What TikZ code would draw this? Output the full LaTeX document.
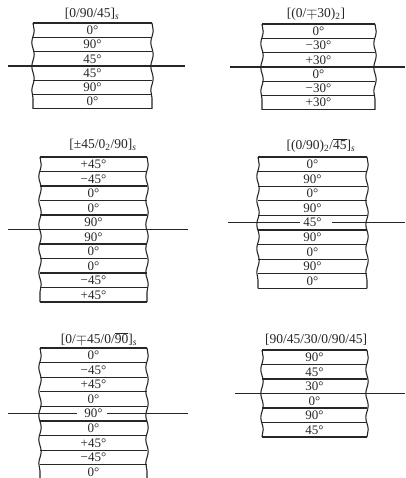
\documentclass[tikz,border=0pt]{standalone}
\usepackage{fontspec}
\setmainfont{Liberation Serif}
\usetikzlibrary{decorations.pathmorphing}
\tikzset{
  layerline/.style={line width=1.1pt, draw=black!85},
  sideline/.style={line width=1.1pt, draw=black!85, decorate,
     decoration={snake, amplitude=1.2pt, segment length=24pt}},
  lab/.style={font=\fontsize{13}{13}\selectfont, inner sep=0pt, text=black!85},
  ttl/.style={font=\fontsize{13.5}{13.5}\selectfont, inner sep=0pt, text=black!85},
  midline/.style={line width=1.1pt, draw=black!85}
}
\newcommand{\ovl}[1]{$\overline{\mbox{#1}}$}
% #1 prefix, #2 left, #3 right, #4 top, #5 layer height, #6 bottom of sides, #7 labels
\newcommand{\laminate}[7]{%
  \draw[layerline] (#2,#4) -- (#3,#4);
  \foreach \t [count=\i] in {#7} {
    \pgfmathsetmacro\yy{#4+(\i-0.5)*#5}
    \pgfmathsetmacro\yb{#4+\i*#5}
    \node[lab] (#1-\i) at ({(#2+#3)/2}, \yy) {\t};
    \draw[layerline] (#2,\yb) -- (#3,\yb);
  }
  \draw[sideline] (#2,#4) -- (#2,#6);
  \draw[sideline] (#3,#4) -- (#3,#6);
}
\begin{document}
\begin{tikzpicture}[x=1pt,y=-1pt]
\useasboundingbox (0,0) rectangle (405,478);
\clip (0,0) rectangle (405,478);

% Panel 1
\node[ttl] (t1) at (92,14) {[0/90/45]\textsubscript{\textit{s}}};
\laminate{a}{33}{152}{23}{14.3}{108.8}{0°,90°,45°,45°,90°,0°}
\coordinate (a-l) at (8,66); \coordinate (a-r) at (185,66);
\draw[midline] (a-l) -- (a-r);

% Panel 2
\node[ttl] (t2) at (316,14) {[(0/$\mp$30)\textsubscript{2}]};
\laminate{b}{262}{375}{24}{14.3}{109.8}{0°,−30°,+30°,0°,−30°,+30°}
\coordinate (b-l) at (230,67); \coordinate (b-r) at (405,67);
\draw[midline] (b-l) -- (b-r);

% Panel 3
\node[ttl] (t3) at (103,145) {[±45/0\textsubscript{2}/90]\textsubscript{\textit{s}}};
\laminate{c}{40}{147}{157}{14.5}{302}{+45°,−45°,0°,0°,90°,90°,0°,0°,−45°,+45°}
\coordinate (c-l) at (8,229.5); \coordinate (c-r) at (188,229.5);
\draw[midline] (c-l) -- (c-r);

% Panel 4
\node[ttl] (t4) at (321,145) {[(0/90)\textsubscript{2}/\ovl{45}]\textsubscript{\textit{s}}};
\laminate{d}{258}{367}{157}{14.6}{288.4}{0°,90°,0°,90°,45°,90°,0°,90°,0°}
\coordinate (d-l1) at (228,222.7); \coordinate (d-r1) at (300,222.7);
\coordinate (d-l2) at (332,222.7); \coordinate (d-r2) at (405,222.7);
\draw[midline] (d-l1) -- (d-r1);
\draw[midline] (d-l2) -- (d-r2);

% Panel 5
\node[ttl] (t5) at (99,339) {[0/$\mp$45/0/\ovl{90}]\textsubscript{\textit{s}}};
\laminate{e}{40}{147}{348}{14.6}{482}{0°,−45°,+45°,0°,90°,0°,+45°,−45°,0°}
\coordinate (e-l1) at (8,413.7); \coordinate (e-r1) at (77,413.7);
\coordinate (e-l2) at (107,413.7); \coordinate (e-r2) at (188,413.7);
\draw[midline] (e-l1) -- (e-r1);
\draw[midline] (e-l2) -- (e-r2);

% Panel 6
\node[ttl] (t6) at (316,340) {[90/45/30/0/90/45]};
\laminate{f}{262}{367}{350}{14.5}{437}{90°,45°,30°,0°,90°,45°}
\coordinate (f-l) at (235,393.5); \coordinate (f-r) at (405,393.5);
\draw[midline] (f-l) -- (f-r);
\end{tikzpicture}
\end{document}
